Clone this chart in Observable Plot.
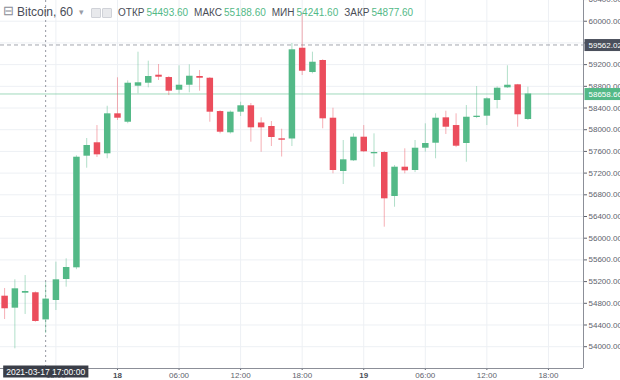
<!DOCTYPE html>
<html><head><meta charset="utf-8">
<script src="https://cdn.jsdelivr.net/npm/d3@7"></script>
<script src="https://cdn.jsdelivr.net/npm/@observablehq/plot@0.6"></script>
<style>
body{margin:0;background:#fff;}
#wrap{position:relative;width:620px;height:380px;overflow:hidden;font-family:"Liberation Sans",Arial,sans-serif;}
#chart svg{display:block;}
#hdr{position:absolute;left:0;top:0;width:620px;height:24px;white-space:nowrap;}
#hdr span{position:absolute;top:5px;line-height:14px;}
#hdr .ico{left:3px;font-size:13px;color:#8a8d96;top:4px;}
#hdr .sym{left:17px;font-size:12px;color:#4a4d57;}
#hdr .dd{left:79px;font-size:9px;color:#9a9da6;}
#hdr .box{top:8px;width:8px;height:8px;background:#e8e9ec;border:1px solid #d0d2d8;border-radius:1px;}
#hdr .grp{left:118px;font-size:10px;top:6px;}
#hdr .grp b{font-weight:normal;color:#4a4d57;margin-left:6px;margin-right:2px;}
#hdr .grp b:first-child{margin-left:0;}
#hdr .grp i{font-style:normal;color:#53b987;}
</style></head><body>
<div id="wrap"><div id="chart"></div>
<div id="hdr"><span class="ico">⊟</span><span class="sym">Bitcoin, 60</span><span class="dd">▾</span><span class="box" style="left:91px"></span><span class="box" style="left:102px"></span><span class="grp" id="ohlc"></span></div>
</div>
<script>
// hourly candles, Mar 17 13:00 UTC ... Mar 19 16:00 UTC
const opens  = [54931,54710,54986,54994,54493.6,54852,55239,55454,57512,57759,57556,58293,58138,58802,58857,59005,58962,58728,58820,58981,58949,58335,57943,58323,58441,58124,58059,57832,57829,59502,59054,59276,58212,57230,57427,57862,57556,57580,56769,57309,57248,57659,57751,58219,58077,57746,58225,58249,58538,58772,58828,58188];
const highs  = [55073,55233,55312,55010,55188.6,55558,55620,57520,57838,58077,58433,58957,58900,59429,59263,59202,58980,59178,59196,59091,58960,58350,58345,58507,58483,58219,58151,58009,59589,60140,59429,59290,58396,57801,57924,58077,57924,57600,57340,57648,57801,58109,58293,58341,58293,58446,58796,58590,58790,59178,58835,58783];
const lows   = [54501,53961,54594,54450,54241.6,54667,55097,55420,57290,57488,57464,58170,58110,58662,58772,58907,58630,58662,58680,58710,58138,57924,57920,58243,57770,57585,57690,57497,57690,58999,59030,58017,57187,56990,57415,57580,57309,56203,56571,57187,57210,57585,57464,57912,57670,57401,58205,58077,58385,58760,58046,58170];
const closes = [54699,55067,55018,54465,54877.6,55233,55460,57493,57709,57537,58293,58212,58857,58865,58981,58968,58710,58820,58986,58949,58323,57954,58323,58441,58035,58035,57856,57806,59473,59078,59244,58201,57248,57445,57862,57593,57580,56726,57309,57242,57659,57746,58212,58046,57696,58230,58249,58570,58765,58820,58275,58658.66];

const firstHour = new Date(Date.UTC(2021, 2, 17, 13));
const crossIndex = 4;                       // candle under crosshair
const crossPrice = 59562.02;
const crossLabel = "2021-03-17 17:00:00";
const xDomain = [new Date(Date.UTC(2021,2,17,12,36)), new Date(Date.UTC(2021,2,19,21,25))];
const yDomain = [53598, 60382];
const yTicks = [54000,54400,54800,55200,55600,56000,56400,56800,57200,57600,58000,58400,58800,59200,59600,60000,60400];
const xTicks = [
  new Date(Date.UTC(2021,2,17,18)), new Date(Date.UTC(2021,2,18,0)), new Date(Date.UTC(2021,2,18,6)),
  new Date(Date.UTC(2021,2,18,12)), new Date(Date.UTC(2021,2,18,18)), new Date(Date.UTC(2021,2,19,0)),
  new Date(Date.UTC(2021,2,19,6)), new Date(Date.UTC(2021,2,19,12)), new Date(Date.UTC(2021,2,19,18))
];
const up = "#53b987", down = "#eb4d5c";

const candles = opens.map((o, i) => ({
  t: new Date(firstHour.getTime() + i * 3600e3), o, h: highs[i], l: lows[i], c: closes[i]
}));
const lastClose = closes[closes.length - 1];
const crossTime = candles[crossIndex].t;
const col = d => d.c >= d.o ? up : down;
const tags = [{v: crossPrice, bg: "#4a4f5c"}, {v: lastClose, bg: up}];

const fmtX = d => d.getUTCHours() === 0 ? String(d.getUTCDate()) : d3.utcFormat("%H:%M")(d);

const chart = Plot.plot({
  width: 620, height: 380,
  marginLeft: 0, marginRight: 37, marginTop: 0, marginBottom: 12,
  style: {fontFamily: '"Liberation Sans", Arial, sans-serif', fontSize: "8px", color: "#60636d", background: "#fff", overflow: "hidden"},
  x: {type: "utc", domain: xDomain, ticks: xTicks, tickFormat: fmtX, tickSize: 2, tickPadding: 2, label: null},
  y: {domain: yDomain, ticks: yTicks, tickFormat: d => d.toFixed(2), axis: "right", tickSize: 3, tickPadding: 2, label: null},
  marks: [
    Plot.ruleY(yTicks, {stroke: "#edf0f4"}),
    Plot.ruleX(xTicks, {stroke: "#edf0f4"}),
    Plot.ruleY([lastClose], {stroke: up, strokeOpacity: 0.55}),
    Plot.ruleX([crossTime], {stroke: "#9598a1", strokeDasharray: "2,3"}),
    Plot.ruleY([crossPrice], {stroke: "#a3a6af", strokeDasharray: "4,3"}),
    Plot.ruleX(candles, {x: "t", y1: "l", y2: "h", stroke: col, strokeOpacity: 0.45}),
    Plot.ruleX(candles, {x: "t", y1: "o", y2: "c", stroke: col, strokeWidth: 6.5}),
    Plot.ruleX([xDomain[1]], {stroke: "#8c8f98"}),
    Plot.ruleY([yDomain[0]], {stroke: "#8c8f98"}),
    Plot.text(tags, {y: "v", text: d => d.v.toFixed(2), frameAnchor: "right", textAnchor: "start", dx: 5, fill: "#fff", fontSize: 8}),
    Plot.text([crossTime], {x: d => d, text: () => crossLabel, frameAnchor: "bottom", dy: 6, fill: "#fff", fontSize: 8.5})
  ]
});
document.getElementById("chart").append(chart);

// header OHLC values of the crosshair candle
const c = candles[crossIndex];
document.getElementById("ohlc").innerHTML =
  `<b>ОТКР</b><i>${c.o.toFixed(2)}</i><b>МАКС</b><i>${c.h.toFixed(2)}</i><b>МИН</b><i>${c.l.toFixed(2)}</i><b>ЗАКР</b><i>${c.c.toFixed(2)}</i>`;

// bold day labels
d3.select(chart).selectAll("text").each(function () {
  const s = this.textContent;
  if (s === "18" || s === "19") d3.select(this).attr("font-weight", "bold").attr("fill", "#4a4d57");
});

// label boxes behind tag texts (found by their text)
function box(label, fill, padX, padY, extendRight) {
  const t = Array.from(chart.querySelectorAll("text")).find(n => n.textContent === label);
  if (!t) return;
  const bb = t.getBBox();
  const r = document.createElementNS("http://www.w3.org/2000/svg", "rect");
  r.setAttribute("x", bb.x - padX);
  r.setAttribute("y", bb.y - padY);
  r.setAttribute("width", extendRight ? 80 : bb.width + 2 * padX);
  r.setAttribute("height", bb.height + 2 * padY);
  r.setAttribute("fill", fill);
  if (t.getAttribute("transform")) r.setAttribute("transform", t.getAttribute("transform"));
  t.parentNode.insertBefore(r, t);
}
tags.forEach(d => box(d.v.toFixed(2), d.bg, 4, 1.5, true));
box(crossLabel, "#3a3e48", 3, 1, false);
</script>
</body></html>
